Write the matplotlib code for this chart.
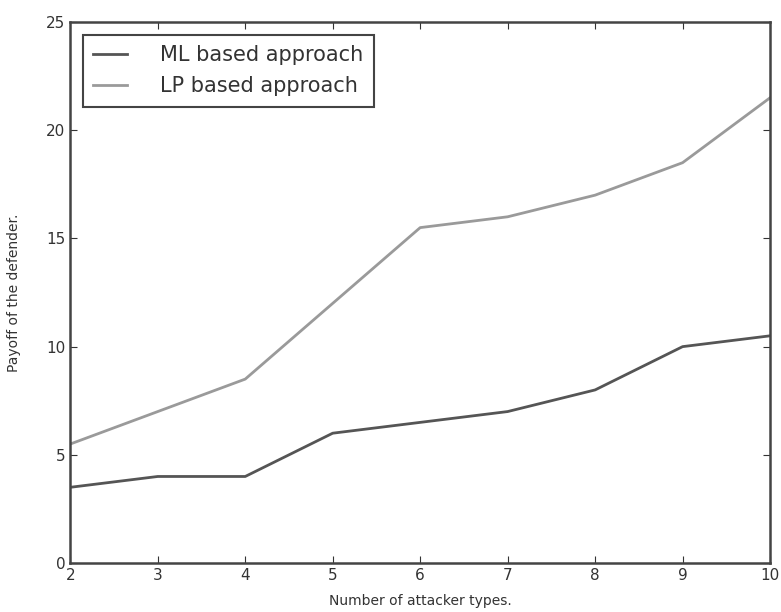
import numpy as np
import matplotlib
matplotlib.use("Agg")
import matplotlib.pyplot as plt

# attacker types on x, defender payoff on y
n_types = [2, 3, 4, 5, 6, 7, 8, 9, 10]
ml_payoff = [3.5, 4.0, 4.0, 6.0, 6.5, 7.0, 8.0, 10.0, 10.5]
lp_payoff = [5.5, 7.0, 8.5, 12.0, 15.5, 16.0, 17.0, 18.5, 21.5]

fig = plt.figure(figsize=(7.81, 6.12), dpi=100)
ax = fig.add_axes([0.09, 0.08, 0.896, 0.884])

ax.plot(n_types, ml_payoff, color='#555555', lw=2, label='ML based approach')
ax.plot(n_types, lp_payoff, color='#9a9a9a', lw=2, label='LP based approach')

ax.set_xlim(2, 10)
ax.set_ylim(0, 25)
ax.set_xticks(n_types)
ax.set_yticks([0, 5, 10, 15, 20, 25])
ax.tick_params(direction='in', top=True, right=True, labelsize=11, colors='#333333', length=5)
for sp in ax.spines.values():
    sp.set_linewidth(1.8)
    sp.set_color('#444444')

ax.set_xlabel('Number of attacker types.', fontsize=10, color='#333333', labelpad=8)
ax.set_ylabel('Payoff of the defender.', fontsize=10, color='#333333', labelpad=18)

leg = ax.legend(loc='upper left', fontsize=15, fancybox=False, framealpha=1,
                edgecolor='#444444', handlelength=1.6, handletextpad=1.6,
                borderpad=0.5, labelspacing=0.55, borderaxespad=0.6)
leg.get_frame().set_linewidth(1.5)
for t in leg.get_texts():
    t.set_color('#333333')

fig.savefig('out.png', dpi=100)
